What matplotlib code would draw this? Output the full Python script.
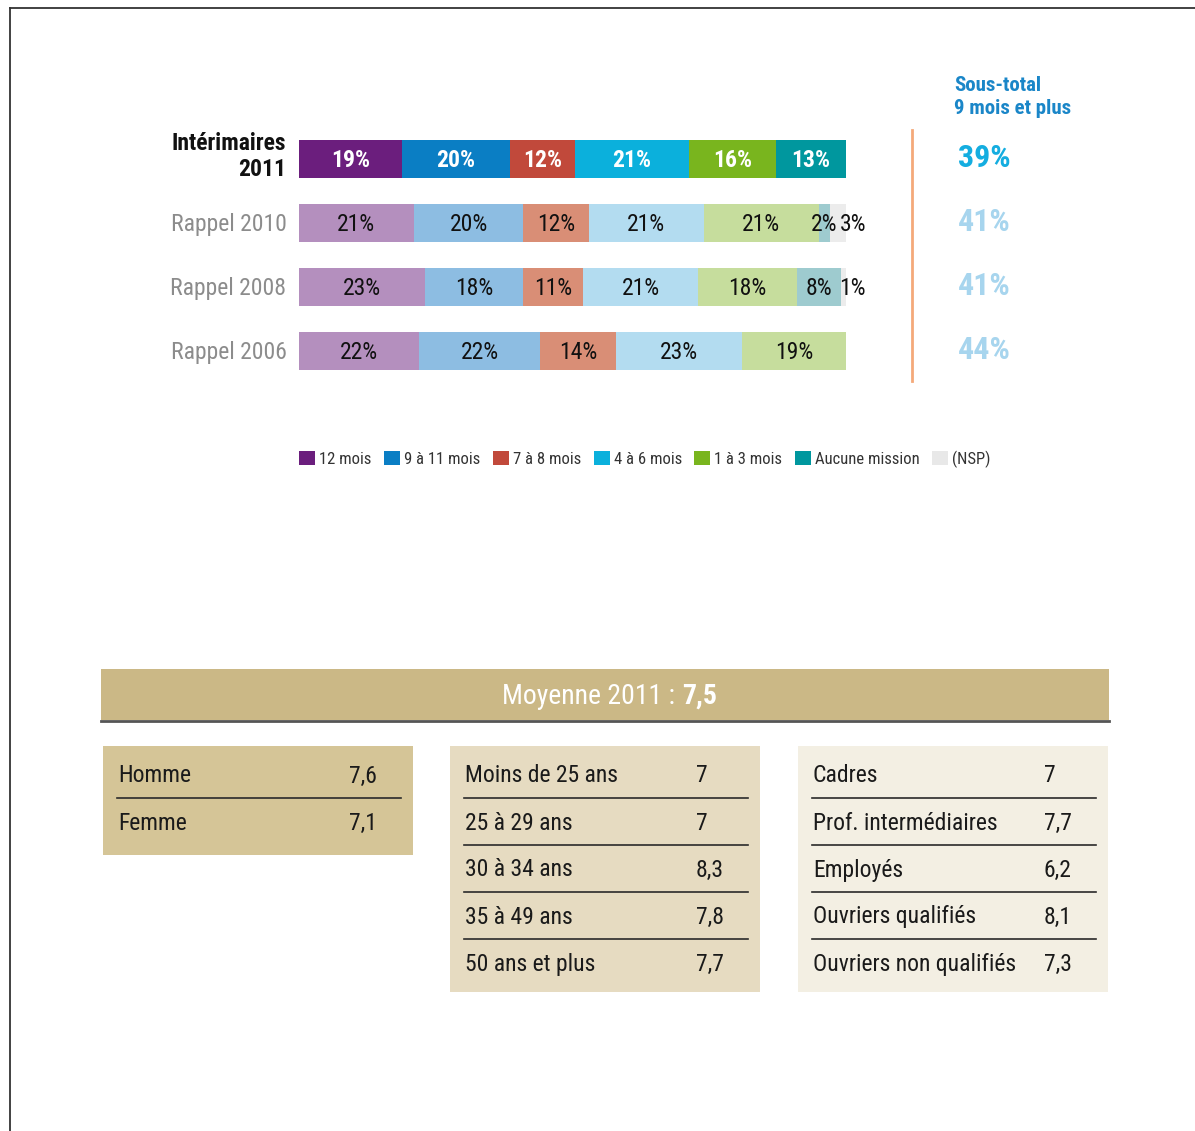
import matplotlib.pyplot as plt
from matplotlib.patches import Rectangle, Patch

W, H = 1195, 1131
plt.rcParams['font.family'] = ['Roboto Condensed', 'Noto Sans Condensed', 'DejaVu Sans']
plt.rcParams['font.stretch'] = 'condensed'

# --- data -----------------------------------------------------------------
rows = ['Intérimaires\n2011', 'Rappel 2010', 'Rappel 2008', 'Rappel 2006']
categories = ['12 mois', '9 à 11 mois', '7 à 8 mois', '4 à 6 mois',
              '1 à 3 mois', 'Aucune mission', '(NSP)']
v2011 = [19, 20, 12, 21, 16, 13, 0]
v2010 = [21, 20, 12, 21, 21, 2, 3]
v2008 = [23, 18, 11, 21, 18, 8, 1]
v2006 = [22, 22, 14, 23, 19, 0, 0]
series = [v2011, v2010, v2008, v2006]

moyenne = 7.5
sexe_labels = ['Homme', 'Femme']
sexe_vals = [7.6, 7.1]
age_labels = ['Moins de 25 ans', '25 à 29 ans', '30 à 34 ans', '35 à 49 ans', '50 ans et plus']
age_vals = [7, 7, 8.3, 7.8, 7.7]
csp_labels = ['Cadres', 'Prof. intermédiaires', 'Employés', 'Ouvriers qualifiés',
              'Ouvriers non qualifiés']
csp_vals = [7, 7.7, 6.2, 8.1, 7.3]

dark = ['#6b1e7d', '#0a7ec4', '#c1493b', '#0bb0dc', '#79b51e', '#00979e', '#e8e8e8']
light = ['#b48fbe', '#8dbde2', '#d98e76', '#b3dcf0', '#c6dd9d', '#9ecbcf', '#ececec']


def fr(v):
    return f"{v:g}".replace('.', ',')


fig = plt.figure(figsize=(W / 100, H / 100), dpi=100)

# overlay axes in pixel coords for layout stuff
ov = fig.add_axes([0, 0, 1, 1])
ov.set_xlim(0, W)
ov.set_ylim(H, 0)
ov.axis('off')

# frame
ov.plot([10, W], [8, 8], color='#333333', lw=1.3)
ov.plot([10, 10], [8, H], color='#333333', lw=1.3)

# --- stacked bars ---------------------------------------------------------
ax = fig.add_axes([299 / W, 1 - 383 / H, 547 / W, 256 / H])
ax.set_xlim(0, 100)
ax.set_ylim(3.5, -0.5)
ax.axis('off')

dy = 0.03  # small nudge down so text sits on the bar centre
for i, vals in enumerate(series):
    tot = sum(vals)
    cols = dark if i == 0 else light
    left = 0
    for j, v in enumerate(vals):
        if v == 0:
            continue
        w = v / tot * 100
        ax.barh(i, w, left=left, height=0.59, color=cols[j], linewidth=0)
        if j == 6:
            ax.text(98.8, i + dy, f"{v}%", ha='left', va='center', fontsize=17, color='#111111')
        elif i == 0:
            ax.text(left + w / 2, i + dy, f"{v}%", ha='center', va='center',
                    fontsize=17, color='white', fontweight='bold')
        else:
            ax.text(left + w / 2, i + dy, f"{v}%", ha='center', va='center',
                    fontsize=17, color='#111111')
        left += w
    if i == 0:
        ax.text(-2.3, i - 0.04, rows[i], ha='right', va='center', fontsize=17,
                fontweight='bold', color='#111111', linespacing=1.2)
    else:
        ax.text(-2.3, i + dy, rows[i], ha='right', va='center', fontsize=17, color='#8c8c8c')

# sub-total column
ov.plot([912, 912], [130, 381], color='#f4a97a', lw=2)
ov.text(954, 97, 'Sous-total\n9 mois et plus', ha='left', va='center', fontsize=15,
        fontweight='bold', color='#1a86c8', linespacing=1.3)
for i, vals in enumerate(series):
    ov.text(958, 158 + 64 * i, f"{vals[0] + vals[1]}%", ha='left', va='center',
            fontsize=23, fontweight='bold',
            color='#14ade0' if i == 0 else '#a7d5ee')

# legend
handles = [Patch(facecolor=c, edgecolor='none', label=l) for c, l in zip(dark, categories)]
ov.legend(handles=handles, loc='center', bbox_to_anchor=(645, 459),
          bbox_transform=ov.transData, ncol=7, frameon=False, fontsize=12,
          handlelength=0.95, handleheight=0.95, handletextpad=0.25,
          columnspacing=0.75, labelcolor='#333333')

# --- moyenne tables -------------------------------------------------------
ov.add_patch(Rectangle((101, 669), 1008, 51, color='#cbb886', lw=0))
ov.plot([101, 1109], [720.5, 720.5], color='#555555', lw=2)
ov.text(681, 696, 'Moyenne 2011 : ', ha='right', va='center', fontsize=20, color='white')
ov.text(682, 696, fr(moyenne), ha='left', va='center', fontsize=20, color='white',
        fontweight='bold')

tables = [(sexe_labels, sexe_vals), (age_labels, age_vals), (csp_labels, csp_vals)]
box_x = [103, 450, 798]
box_h = [109, 246, 246]
box_col = ['#d5c597', '#e6dbc1', '#f3efe3']
for (labels, vals), x0, h, c in zip(tables, box_x, box_h, box_col):
    ov.add_patch(Rectangle((x0, 746), 310, h, color=c, lw=0))
    for k, (lab, v) in enumerate(zip(labels, vals)):
        y = 776 + 47 * k
        ov.text(x0 + 15, y, lab, ha='left', va='center', fontsize=17, color='#1a1a1a')
        ov.text(x0 + 246, y, fr(v), ha='left', va='center', fontsize=17, color='#1a1a1a')
        if k < len(labels) - 1:
            ov.plot([x0 + 14, x0 + 298], [797.5 + 47 * k] * 2, color='#2a2a2a', lw=1.2)

fig.savefig('out.png', dpi=100)
